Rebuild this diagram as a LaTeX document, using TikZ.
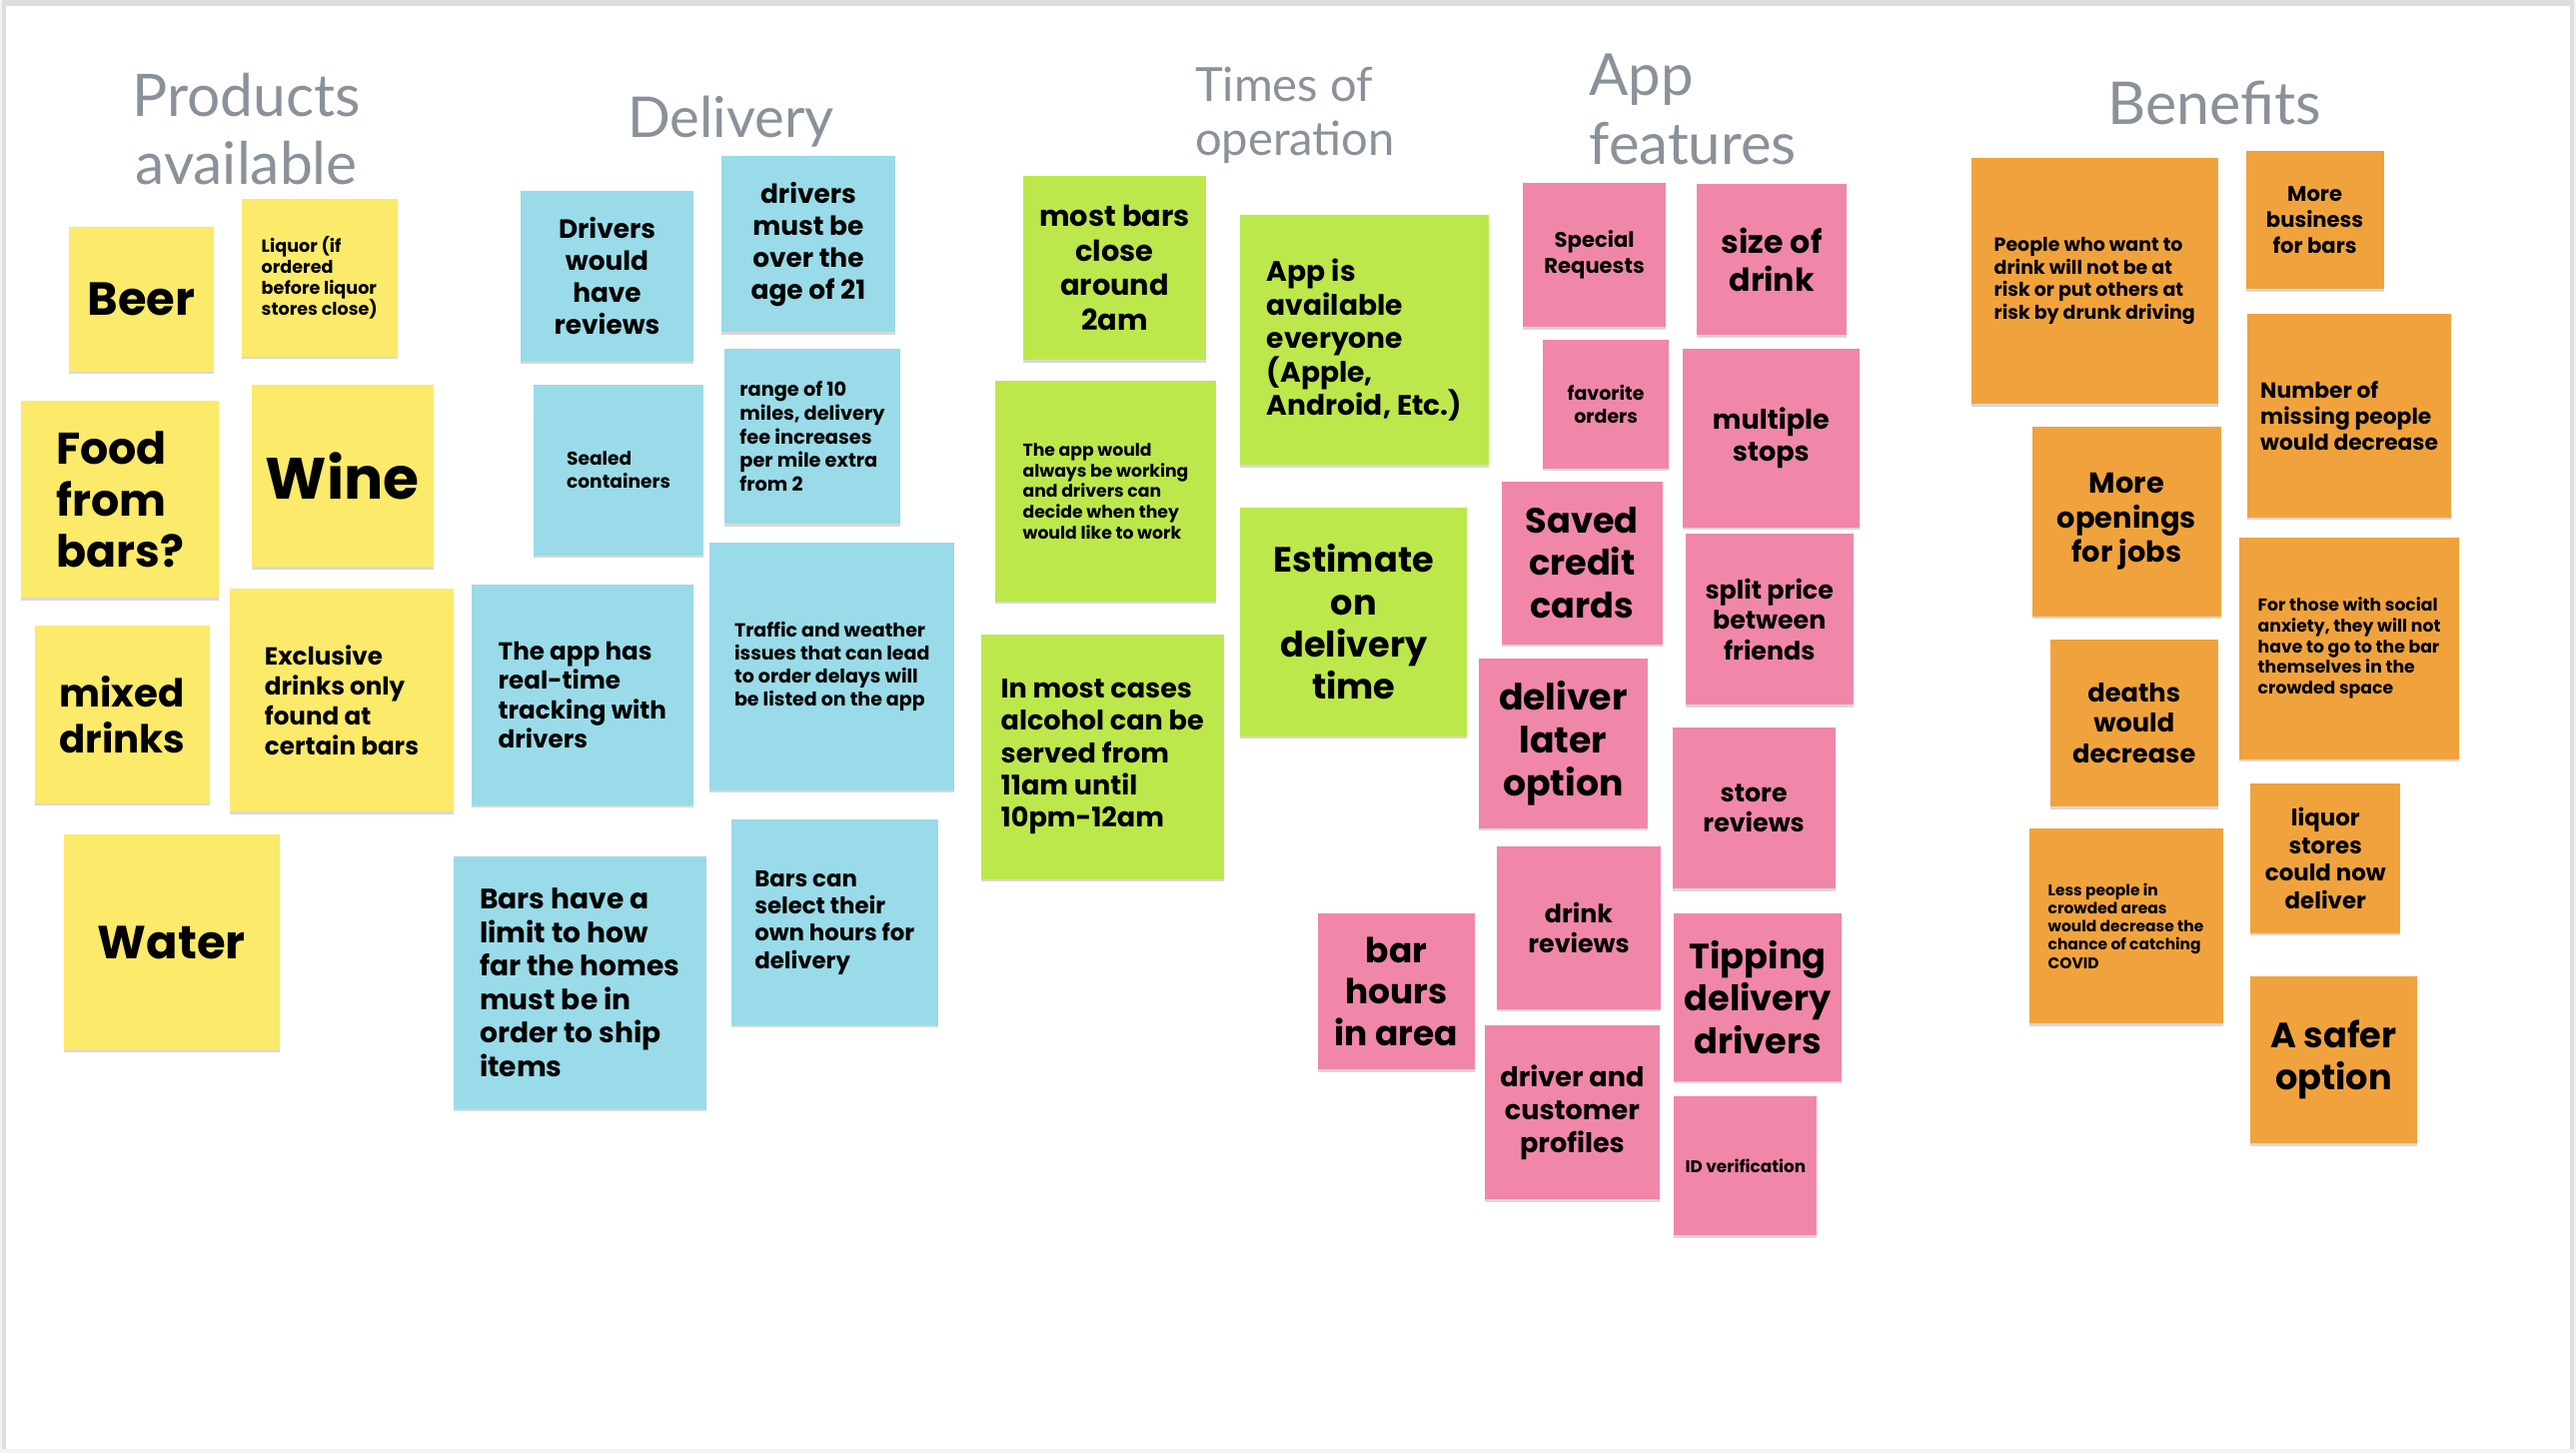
\documentclass[tikz,border=0pt]{standalone}
\usepackage{fontspec}
\usepackage{tikz}
\usetikzlibrary{fit,shadows}
\newfontfamily\notefont{Poppins}
\newfontfamily\headfont{Lato}
\newcommand{\fsz}[2]{\notefont\bfseries\fontsize{#1}{#2}\selectfont}
\newcommand{\hsz}[2]{\headfont\fontsize{#1}{#2}\selectfont}
\definecolor{yel}{HTML}{FCEA6A}
\definecolor{blu}{HTML}{99DBE8}
\definecolor{grn}{HTML}{BDE84B}
\definecolor{pnk}{HTML}{F087A9}
\definecolor{org}{HTML}{F0A33D}
\definecolor{headgray}{HTML}{8A9199}
\definecolor{framegray}{HTML}{DCDDE1}
\definecolor{framelight}{HTML}{F1F2F4}

\begin{document}
\begin{tikzpicture}[
		x=0.016441cm, y=-0.016441cm,
		note/.style={fill=#1, inner sep=0pt,
			drop shadow={shadow xshift=0pt, shadow yshift=-0.7pt, opacity=0.3}},
		txt/.style={inner sep=0pt, align=center},
		heading/.style={text=headgray, inner sep=0pt, align=center, anchor=base}
		]
		\useasboundingbox (0,0) rectangle (1568,884.4);
		\fill[framelight] (0,0) rectangle (1568,884.4);
		\fill[framegray] (1.2,0) rectangle (1567,882);
		\fill[white] (3.6,3.6) rectangle (1564.5,882);
		
		\node[heading, font=\hsz{16.7}{19.2}] (hprod) at (150,112) {Products\\available};
		\node[heading, font=\hsz{16}{19.2}] (hdel) at (445,83.6) {Delivery};
		\node[heading, font=\hsz{13.4}{15.3}, align=left, anchor=base west] (htime) at (727,94.3) {Times of\\operation};
		\node[heading, font=\hsz{16.5}{19.6}, align=left, anchor=base west] (happ) at (967,100.1) {App\\features};
		\node[heading, font=\hsz{16.8}{20}] (hben) at (1348,75.7) {Benefits};
		
		\node[note=yel, fit={(42,138) (130,226)}] (beer) {};
		\node[txt, font=\fsz{13.2}{15}] (tbeer) at (beer) {Beer};
		\node[note=yel, fit={(147,121) (242,217)}] (liquor) {};
		\node[txt, font=\fsz{5}{6}, align=left] (tliquor) at (liquor) {Liquor (if\\ordered\\before liquor\\stores close)};
		\node[note=yel, fit={(13,244) (133,364)}] (food) {};
		\node[txt, font=\fsz{12.6}{14.7}, align=left] (tfood) at (food) {Food\\from\\bars?};
		\node[note=yel, fit={(153,234) (264,345)}] (wine) {};
		\node[txt, font=\fsz{16.6}{19}] (twine) at (wine) {Wine};
		\node[note=yel, fit={(21,381) (128,489)}] (mixed) {};
		\node[txt, font=\fsz{11}{13}, align=left] (tmixed) at (mixed) {mixed\\drinks};
		\node[note=yel, fit={(140,358) (276,494)}] (exclusive) {};
		\node[txt, font=\fsz{7}{8.5}, align=left] (texclusive) at (exclusive) {Exclusive\\drinks only\\found at\\certain bars};
		\node[note=yel, fit={(39,508) (170,639)}] (water) {};
		\node[txt, font=\fsz{13.2}{15.6}] (twater) at (water) {Water};
		
		\node[note=blu, fit={(317,116) (422,220)}] (drivrev) {};
		\node[txt, font=\fsz{7.5}{9.1}] (tdrivrev) at (drivrev) {Drivers\\would\\have\\reviews};
		\node[note=blu, fit={(439,95) (545,202)}] (age) {};
		\node[txt, font=\fsz{7.5}{9.1}] (tage) at (age) {drivers\\must be\\over the\\age of 21};
		\node[note=blu, fit={(325,234) (428,338)}] (sealed) {};
		\node[txt, font=\fsz{5.3}{6.4}, align=left] (tsealed) at (sealed) {Sealed\\containers};
		\node[note=blu, fit={(441,212) (548,319)}] (range) {};
		\node[txt, font=\fsz{5.5}{6.7}, align=left] (trange) at (range) {range of 10\\miles, delivery\\fee increases\\per mile extra\\from 2};
		\node[note=blu, fit={(287,356) (422,490)}] (tracking) {};
		\node[txt, font=\fsz{7}{8.3}, align=left] (ttracking) at (tracking) {The app has\\real-time\\tracking with\\drivers};
		\node[note=blu, fit={(432,330) (581,481)}] (traffic) {};
		\node[txt, font=\fsz{5.4}{6.5}, align=left] (ttraffic) at (traffic) {Traffic and weather\\issues that can lead\\to order delays will\\be listed on the app};
		\node[note=blu, fit={(276,521) (430,675)}] (limit) {};
		\node[txt, font=\fsz{8}{9.5}, align=left] (tlimit) at (limit) {Bars have a\\limit to how\\far the homes\\must be in\\order to ship\\items};
		\node[note=blu, fit={(445,499) (571,624)}] (hours) {};
		\node[txt, font=\fsz{6.5}{7.8}, align=left] (thours) at (hours) {Bars can\\select their\\own hours for\\delivery};
		
		\node[note=grn, fit={(623,107) (734,219)}] (close) {};
		\node[txt, font=\fsz{8.2}{9.8}] (tclose) at (close) {most bars\\close\\around\\2am};
		\node[note=grn, fit={(755,131) (906,283)}] (avail) {};
		\node[txt, font=\fsz{8}{9.5}, align=left] (tavail) at (avail) {App is\\available\\everyone\\(Apple,\\Android, Etc.)};
		\node[note=grn, fit={(606,232) (740,366)}] (working) {};
		\node[txt, font=\fsz{4.9}{5.9}, align=left] (tworking) at (working) {The app would\\always be working\\and drivers can\\decide when they\\would like to work};
		\node[note=grn, fit={(755,309) (893,448)}] (estimate) {};
		\node[txt, font=\fsz{10}{12}] (testimate) at (estimate) {Estimate\\on\\delivery\\time};
		\node[note=grn, fit={(597,386) (745,535)}] (served) {};
		\node[txt, font=\fsz{7.7}{9.2}, align=left] (tserved) at (served) {In most cases\\alcohol can be\\served from\\11am until\\10pm-12am};
		
		\node[note=pnk, fit={(927,111) (1014,199)}] (special) {};
		\node[txt, font=\fsz{6}{7.3}] (tspecial) at (special) {Special\\Requests};
		\node[note=pnk, fit={(1033,112) (1124,204)}] (size) {};
		\node[txt, font=\fsz{9}{10.9}] (tsize) at (size) {size of\\drink};
		\node[note=pnk, fit={(939,207) (1016,285)}] (favorite) {};
		\node[txt, font=\fsz{5.4}{6.5}] (tfavorite) at (favorite) {favorite\\orders};
		\node[note=pnk, fit={(1024,212) (1132,321)}] (stops) {};
		\node[txt, font=\fsz{7.7}{9.3}] (tstops) at (stops) {multiple\\stops};
		\node[note=pnk, fit={(914,293) (1012,392)}] (saved) {};
		\node[txt, font=\fsz{10}{12}] (tsaved) at (saved) {Saved\\credit\\cards};
		\node[note=pnk, fit={(1026,325) (1128,429)}] (split) {};
		\node[txt, font=\fsz{7.2}{8.6}] (tsplit) at (split) {split price\\between\\friends};
		\node[note=pnk, fit={(900,401) (1003,504)}] (later) {};
		\node[txt, font=\fsz{10.3}{12.3}] (tlater) at (later) {deliver\\later\\option};
		\node[note=pnk, fit={(1018,443) (1117,541)}] (store) {};
		\node[txt, font=\fsz{7.2}{8.6}] (tstore) at (store) {store\\reviews};
		\node[note=pnk, fit={(911,515) (1011,614)}] (drinkrev) {};
		\node[txt, font=\fsz{7.2}{8.6}] (tdrinkrev) at (drinkrev) {drink\\reviews};
		\node[note=pnk, fit={(802,556) (898,651)}] (barhours) {};
		\node[txt, font=\fsz{9.8}{11.7}] (tbarhours) at (barhours) {bar\\hours\\in area};
		\node[note=pnk, fit={(1019,556) (1121,658)}] (tipping) {};
		\node[txt, font=\fsz{10}{12}] (ttipping) at (tipping) {Tipping\\delivery\\drivers};
		\node[note=pnk, fit={(904,624) (1010,730)}] (profiles) {};
		\node[txt, font=\fsz{7.7}{9.3}] (tprofiles) at (profiles) {driver and\\customer\\profiles};
		\node[note=pnk, fit={(1019,667) (1106,752)}] (idver) {};
		\node[txt, font=\fsz{4.8}{5.8}] (tidver) at (idver) {ID verification};
		
		\node[note=org, fit={(1200,96) (1350,246)}] (risk) {};
		\node[txt, font=\fsz{5.4}{6.5}, align=left] (trisk) at (risk) {People who want to\\drink will not be at\\risk or put others at\\risk by drunk driving};
		\node[note=org, fit={(1367,92) (1451,176)}] (business) {};
		\node[txt, font=\fsz{6}{7.3}] (tbusiness) at (business) {More\\business\\for bars};
		\node[note=org, fit={(1368,191) (1492,315)}] (missing) {};
		\node[txt, font=\fsz{6.2}{7.5}, align=left] (tmissing) at (missing) {Number of\\missing people\\would decrease};
		\node[note=org, fit={(1237,260) (1352,375)}] (jobs) {};
		\node[txt, font=\fsz{8.2}{9.8}] (tjobs) at (jobs) {More\\openings\\for jobs};
		\node[note=org, fit={(1363,327) (1497,462)}] (anxiety) {};
		\node[txt, font=\fsz{4.9}{5.9}, align=left] (tanxiety) at (anxiety) {For those with social\\anxiety, they will not\\have to go to the bar\\themselves in the\\crowded space};
		\node[note=org, fit={(1248,389) (1350,491)}] (deaths) {};
		\node[txt, font=\fsz{7.3}{8.7}] (tdeaths) at (deaths) {deaths\\would\\decrease};
		\node[note=org, fit={(1235,504) (1353,623)}] (covid) {};
		\node[txt, font=\fsz{4.4}{5.2}, align=left] (tcovid) at (covid) {Less people in\\crowded areas\\would decrease the\\chance of catching\\COVID};
		\node[note=org, fit={(1370,477) (1461,568)}] (liqstores) {};
		\node[txt, font=\fsz{6.5}{7.8}] (tliqstores) at (liqstores) {liquor\\stores\\could now\\deliver};
		\node[note=org, fit={(1370,594) (1471,696)}] (safer) {};
		\node[txt, font=\fsz{10}{12}] (tsafer) at (safer) {A safer\\option};
	\end{tikzpicture}
\end{document}
